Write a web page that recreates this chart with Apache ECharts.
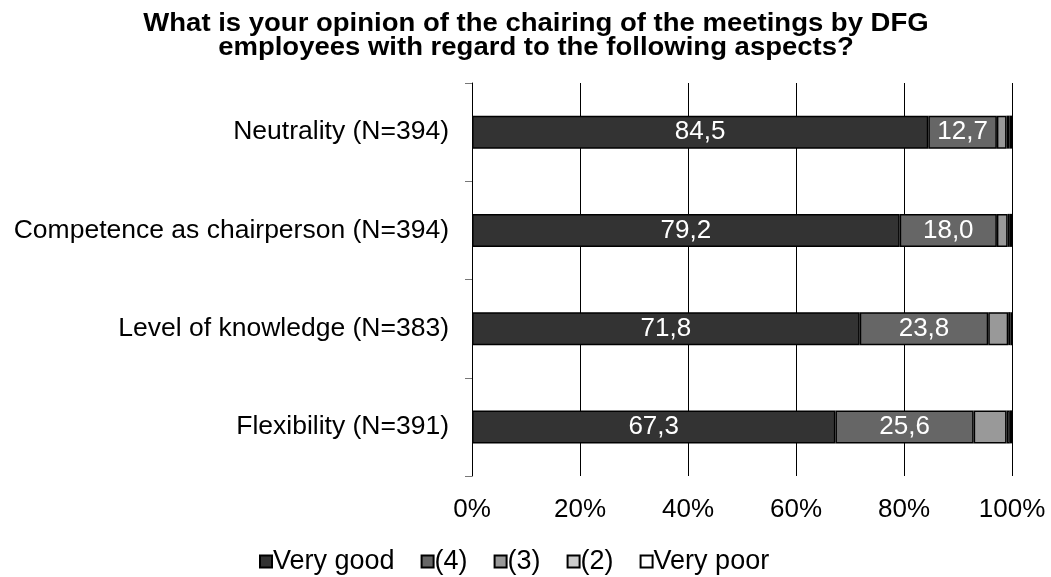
<!DOCTYPE html>
<html>
<head>
<meta charset="utf-8">
<script src="https://cdn.jsdelivr.net/npm/echarts@6/dist/echarts.min.js"></script>
<style>html,body{margin:0;padding:0;background:#fff}#c{width:1051px;height:577px}</style>
</head>
<body>
<div id="c"></div>
<script>
const titleText = 'What is your opinion of the chairing of the meetings by DFG\nemployees with regard to the following aspects?';
const categories = ['Neutrality (N=394)', 'Competence as chairperson (N=394)', 'Level of knowledge (N=383)', 'Flexibility (N=391)'];
const seriesNames = ['Very good', '(4)', '(3)', '(2)', 'Very poor'];
const veryGood = [84.5, 79.2, 71.8, 67.3];
const four = [12.7, 18.0, 23.8, 25.6];
const three = [1.8, 2.0, 3.7, 6.1];
const two = [0.5, 0.4, 0.4, 0.6];
const veryPoor = [0.5, 0.4, 0.3, 0.4];
const xTicks = ['0%', '20%', '40%', '60%', '80%', '100%'];

const colors = ['#333333', '#666666', '#999999', '#cccccc', '#ffffff'];
const values = [veryGood, four, three, two, veryPoor];
const FONT = 'Liberation Sans, Arial, sans-serif';

const chart = echarts.init(document.getElementById('c'));
chart.setOption({
  animation: false,
  graphic: [{
    type: 'text', x: 536, y: 12, scaleX: 1.1,
    style: {
      text: titleText, textAlign: 'center', textVerticalAlign: 'top',
      fontFamily: FONT, fontSize: 25, fontWeight: 'bold', fill: '#000', lineHeight: 24
    }
  }],
  legend: {
    top: 543, left: 254,
    itemWidth: 12, itemHeight: 12, itemGap: 26, icon: 'rect',
    textStyle: { fontFamily: FONT, fontSize: 27, color: '#000', padding: [0, 0, 0, -4] },
    data: seriesNames
  },
  grid: { left: 472, right: 39, top: 83, bottom: 101, containLabel: false },
  xAxis: {
    type: 'value', min: 0, max: 100, interval: 20,
    axisLine: { show: false }, axisTick: { show: false },
    splitLine: { show: true, lineStyle: { color: '#000', width: 1 } },
    axisLabel: {
      fontFamily: FONT, fontSize: 26, color: '#000', margin: 21,
      formatter: (v) => xTicks[Math.round(v / 20)]
    }
  },
  yAxis: {
    type: 'category', data: categories, inverse: true,
    axisLine: { show: true, lineStyle: { color: '#000', width: 1 } },
    axisTick: { show: true, length: 7, lineStyle: { color: '#777' } },
    axisLabel: { fontFamily: FONT, fontSize: 26.5, color: '#000', margin: 23 }
  },
  series: seriesNames.map((name, i) => ({
    name, type: 'bar', stack: 'total', barWidth: 33,
    data: values[i],
    itemStyle: { color: colors[i], borderColor: '#000', borderWidth: 1.5 },
    label: {
      show: i < 2, position: 'inside', color: '#fff',
      fontFamily: FONT, fontSize: 26,
      formatter: (p) => p.value.toFixed(1).replace('.', ',')
    }
  }))
});
</script>
</body>
</html>
